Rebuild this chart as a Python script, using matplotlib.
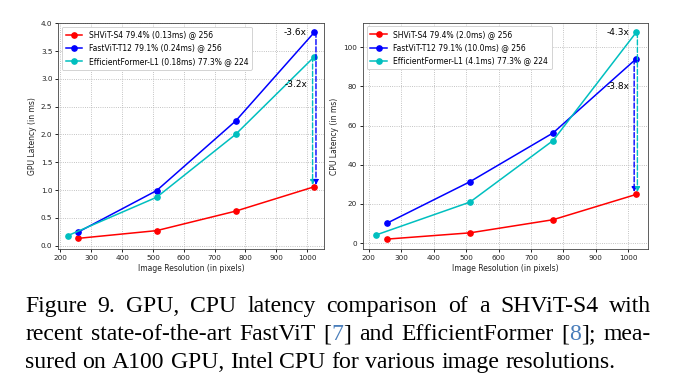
import numpy as np
import matplotlib
matplotlib.use("Agg")
import matplotlib.pyplot as plt

# данные: разрешение и задержки
res_shvit = [256, 512, 768, 1024]
res_fastvit = [256, 512, 768, 1024]
res_effformer = [224, 512, 768, 1024]

gpu_shvit = [0.13, 0.27, 0.62, 1.06]
gpu_fastvit = [0.24, 0.99, 2.24, 3.84]
gpu_effformer = [0.18, 0.87, 2.00, 3.40]

cpu_shvit = [2.0, 5.2, 11.9, 24.8]
cpu_fastvit = [10.1, 31.3, 56.2, 94.0]
cpu_effformer = [4.2, 20.9, 52.3, 107.5]

gpu_labels = ["SHViT-S4 79.4% (0.13ms) @ 256",
              "FastViT-T12 79.1% (0.24ms) @ 256",
              "EfficientFormer-L1 (0.18ms) 77.3% @ 224"]
cpu_labels = ["SHViT-S4 79.4% (2.0ms) @ 256",
              "FastViT-T12 79.1% (10.0ms) @ 256",
              "EfficientFormer-L1 (4.1ms) 77.3% @ 224"]

gpu_speedup = ["-3.6x", "-3.2x"]
cpu_speedup = ["-4.3x", "-3.8x"]

W, H = 676, 387
fig = plt.figure(figsize=(W / 100, H / 100), dpi=100)
fig.patch.set_facecolor("white")

ax1 = fig.add_axes([58 / W, 1 - 249.3 / H, (324.3 - 58) / W, (249.3 - 22.7) / H])
ax2 = fig.add_axes([362.7 / W, 1 - 249.3 / H, (648.3 - 362.7) / W, (249.3 - 22.5) / H])

fs = 5.2


def draw_panel(ax, s, f, e, labels, ylabel):
    ax.plot(res_shvit, s, "-o", color="#ff0000", lw=1.1, ms=3.8, label=labels[0])
    ax.plot(res_fastvit, f, "-o", color="#0000ff", lw=1.1, ms=3.8, label=labels[1])
    ax.plot(res_effformer, e, "-o", color="#00bfbf", lw=1.1, ms=3.8, label=labels[2])
    ax.grid(True, linestyle=":", color="#b0b0b0", lw=0.6)
    ax.tick_params(labelsize=fs, length=2.5, width=0.6, pad=1.5, labelcolor="#222222")
    ax.set_xlabel("Image Resolution (in pixels)", fontsize=fs + 0.3, labelpad=2, color="#222222")
    ax.set_ylabel(ylabel, fontsize=fs + 0.3, labelpad=3, color="#222222")
    for sp in ax.spines.values():
        sp.set_linewidth(0.6)
        sp.set_color("#444444")
    ax.set_xticks([200, 300, 400, 500, 600, 700, 800, 900, 1000])
    leg = ax.legend(loc="upper left", fontsize=fs + 0.3, handlelength=2.2,
                    borderpad=0.5, labelspacing=0.55, framealpha=1.0,
                    edgecolor="#cccccc", fancybox=True)
    leg.get_frame().set_linewidth(0.6)


def arrow(ax, x, ytop, ybot, color):
    ax.annotate("", xy=(x, ybot), xytext=(x, ytop),
                arrowprops=dict(arrowstyle="-|>", linestyle="--", color=color,
                                lw=1.0, mutation_scale=7, shrinkA=0, shrinkB=0))


# GPU
draw_panel(ax1, gpu_shvit, gpu_fastvit, gpu_effformer, gpu_labels, "GPU Latency (in ms)")
arrow(ax1, res_effformer[-1] - 6, gpu_effformer[-1], gpu_shvit[-1] + 0.03, "#00bfbf")
arrow(ax1, res_fastvit[-1] + 5, gpu_fastvit[-1], gpu_shvit[-1] + 0.03, "#0000ff")
ax1.text(1000, gpu_fastvit[-1], gpu_speedup[0], ha="right", va="center", fontsize=6.5)
ax1.text(1000, 2.89, gpu_speedup[1], ha="right", va="center", fontsize=6.5)
ax1.set_xlim(192, 1056)
ax1.set_ylim(-0.066, 4.01)
ax1.set_yticks(np.arange(0, 4.01, 0.5))

# CPU
draw_panel(ax2, cpu_shvit, cpu_fastvit, cpu_effformer, cpu_labels, "CPU Latency (in ms)")
arrow(ax2, res_fastvit[-1] - 6, cpu_fastvit[-1], cpu_shvit[-1] + 1.2, "#0000ff")
arrow(ax2, res_effformer[-1] + 4, cpu_effformer[-1], cpu_shvit[-1] + 1.2, "#00bfbf")
ax2.text(1005, cpu_effformer[-1], cpu_speedup[0], ha="right", va="center", fontsize=6.5)
ax2.text(1005, 80, cpu_speedup[1], ha="right", va="center", fontsize=6.5)
ax2.set_xlim(181.5, 1061.6)
ax2.set_ylim(-3.2, 112.6)

# подпись рисунка, выровненная по ширине
cap_font = "Liberation Serif"
cap_size = 17.1
ref_color = "#4a7ebb"
caption = [
    ([[("Figure", "k")], [("9.", "k")], [("GPU,", "k")], [("CPU", "k")], [("latency", "k")],
      [("comparison", "k")], [("of", "k")], [("a", "k")], [("SHViT-S4", "k")], [("with", "k")]], True),
    ([[("recent", "k")], [("state-of-the-art", "k")], [("FastViT", "k")],
      [("[", "k"), ("7", ref_color), ("]", "k")], [("and", "k")], [("EfficientFormer", "k")],
      [("[", "k"), ("8", ref_color), ("];", "k")], [("mea-", "k")]], True),
    ([[("sured", "k")], [("on", "k")], [("A100", "k")], [("GPU,", "k")], [("Intel", "k")],
      [("CPU", "k")], [("for", "k")], [("various", "k")], [("image", "k")],
      [("resolutions.", "k")]], False),
]
baselines = [311.7, 340.0, 368.0]
x_left, x_right = 25, 651

renderer = fig.canvas.get_renderer()


def width_of(s):
    t = fig.text(0, 0, s, fontsize=cap_size, family=cap_font)
    w = t.get_window_extent(renderer).width
    t.remove()
    return w


space_w = width_of("a a") - width_of("aa")

for (words, justify), yb in zip(caption, baselines):
    wlist = [[width_of(p) for p, c in w] for w in words]
    total = sum(sum(w) for w in wlist)
    gap = (x_right - x_left - total) / (len(words) - 1) if justify else space_w
    x = x_left
    for w, ws in zip(words, wlist):
        for (p, c), pw in zip(w, ws):
            fig.text(x / W, 1 - yb / H, p, fontsize=cap_size, family=cap_font,
                     color=c, ha="left", va="baseline")
            x += pw
        x += gap

fig.savefig("out.png", dpi=100)
